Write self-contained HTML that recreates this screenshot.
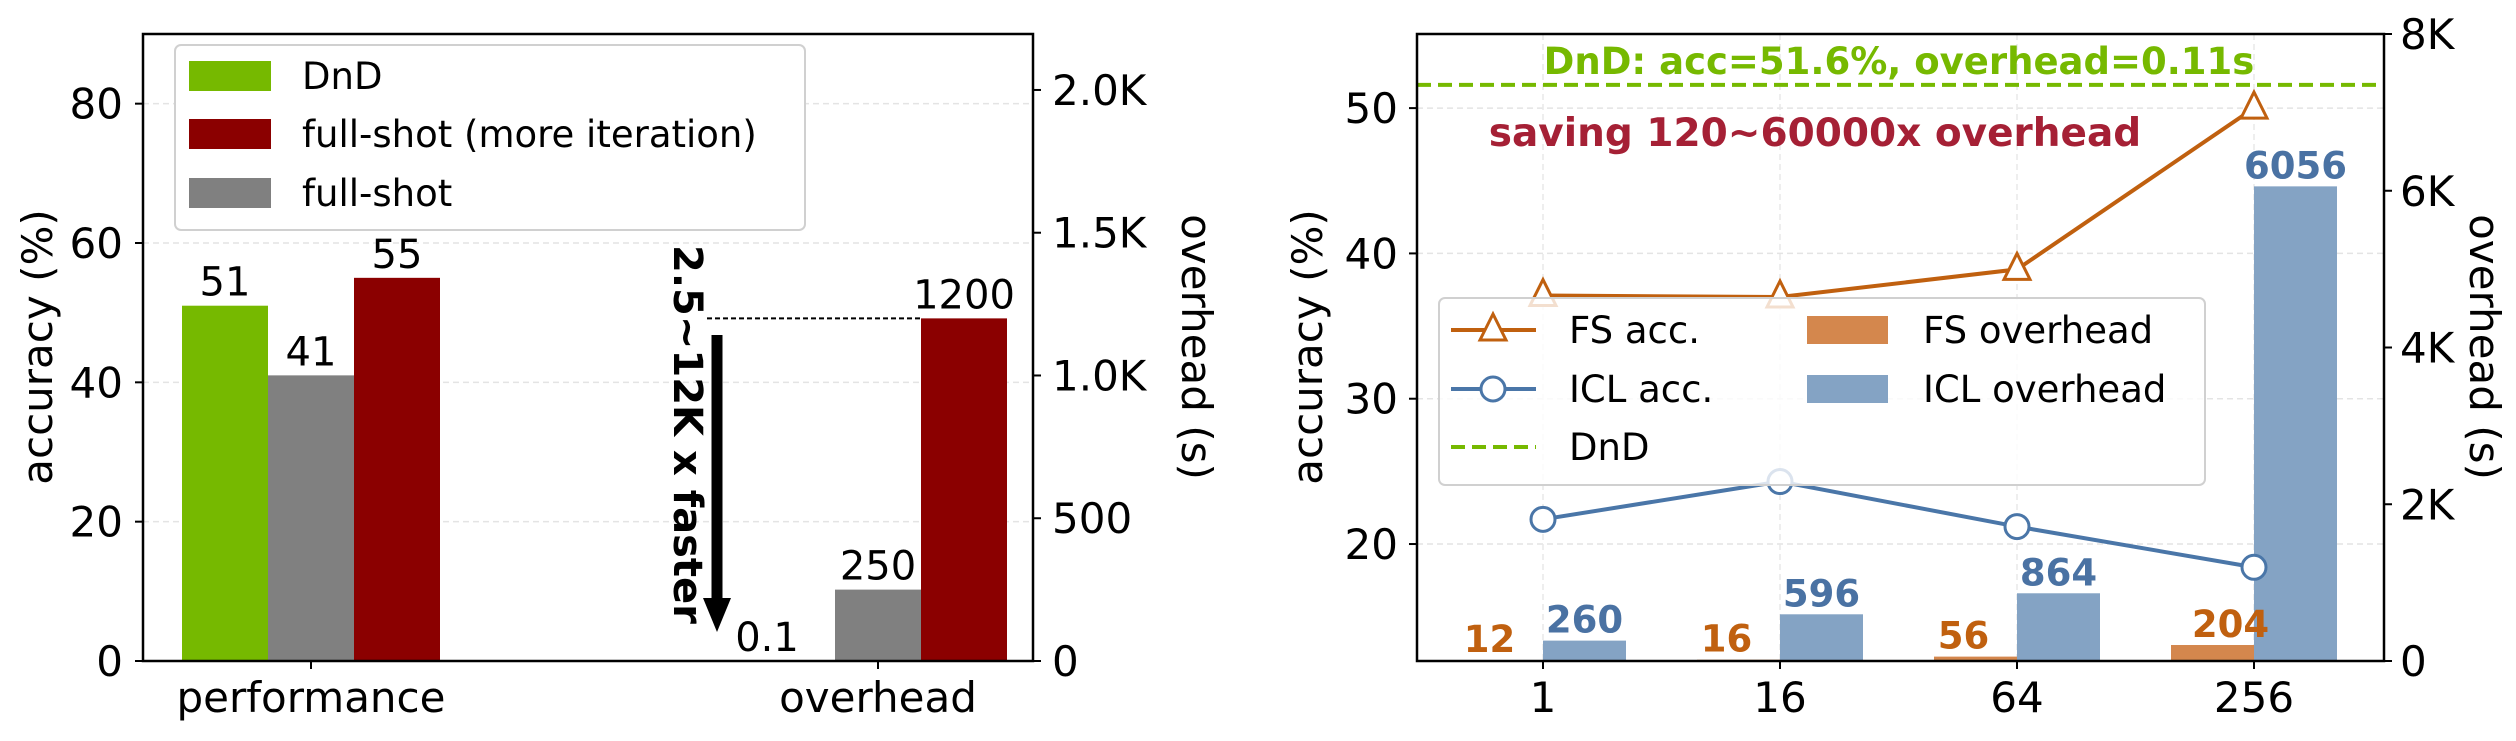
<!DOCTYPE html>
<html><head><meta charset="utf-8">
<style>
html,body{margin:0;padding:0;background:#fff;}
svg{display:block;font-family:"DejaVu Sans","Liberation Sans",sans-serif;}
</style></head>
<body>
<svg id="chart" width="2516" height="741" viewBox="0 0 2516 741" xmlns="http://www.w3.org/2000/svg"></svg>
<script>
// ---- Left chart data ----
const leftCategories = ["performance", "overhead"];
const dndValues = [51, 0.1];
const fullShotMoreValues = [55, 1200];
const fullShotValues = [41, 250];
const leftAccTicks = [0, 20, 40, 60, 80];
const leftOvhTicks = [0, 500, 1000, 1500, 2000];
const leftOvhTickLabels = ["0", "500", "1.0K", "1.5K", "2.0K"];
const dndLabels = ["51", "0.1"];
const fullShotLabels = ["41", "250"];
const fullShotMoreLabels = ["55", "1200"];

// ---- Right chart data ----
const shotCategories = ["1", "16", "64", "256"];
const fsAcc = [37.1, 37.0, 38.9, 50.0];
const iclAcc = [21.7, 24.3, 21.2, 18.4];
const fsOverhead = [12, 16, 56, 204];
const iclOverhead = [260, 596, 864, 6056];
const dndAcc = 51.6;
const rightAccTicks = [20, 30, 40, 50];
const rightOvhTicks = [0, 2000, 4000, 6000, 8000];
const rightOvhTickLabels = ["0", "2K", "4K", "6K", "8K"];

const NS = "http://www.w3.org/2000/svg";
const svg = document.getElementById("chart");
function mk(tag, attrs, parent, text) {
  const e = document.createElementNS(NS, tag);
  for (const k in attrs) e.setAttribute(k, attrs[k]);
  if (text !== undefined) e.textContent = text;
  (parent || svg).appendChild(e);
  return e;
}

// ===== LEFT CHART =====
const L = {x0:143, x1:1033, y0:34, y1:661};
const lAcc = v => L.y1 - (v/90)*(L.y1-L.y0);
const lOvh = v => L.y1 - (v/2196)*(L.y1-L.y0);
const lX = i => 311 + i*567;
const bw = 86;

const gL = mk("g", {});



leftAccTicks.forEach(t => {
  const y = lAcc(t);
  if (t>0) {
    const gl = mk("line", {x1:L.x0, x2:L.x1, y1:y, y2:y, stroke:"#e4e4e4", "stroke-width":1.5, "stroke-dasharray":"6,4"}, gL);
    
    
  }
  mk("line", {x1:L.x0-8, x2:L.x0, y1:y, y2:y, stroke:"#000", "stroke-width":2}, gL);
  const tx = mk("text", {x:123, y:y+15, "text-anchor":"end", "font-size":42}, gL, String(t));
  
  
});
leftOvhTicks.forEach((t,i) => {
  const y = lOvh(t);
  mk("line", {x1:L.x1, x2:L.x1+8, y1:y, y2:y, stroke:"#000", "stroke-width":2}, gL);
  const tx = mk("text", {x:1052, y:y+15, "font-size":42}, gL, leftOvhTickLabels[i]);
  
  
});

function lbar(x, yTop, color, name) {
  const r = mk("rect", {x:x, y:yTop, width:bw, height:L.y1-yTop, fill:color}, gL);
  
  
}
function llabel(x, y, s) {
  const t = mk("text", {x:x, y:y, "text-anchor":"middle", "font-size":40}, gL, s);
  
  
}
leftCategories.forEach((c,i) => {
  const cx = lX(i);
  const scale = i===0 ? lAcc : lOvh;
  lbar(cx-1.5*bw, scale(dndValues[i]), "#76b900", "bar-dnd-"+c);
  lbar(cx-0.5*bw, scale(fullShotValues[i]), "#808080", "bar-full-shot-"+c);
  lbar(cx+0.5*bw, scale(fullShotMoreValues[i]), "#8b0000", "bar-full-shot-more-"+c);
  if (i===0) {
    llabel(cx-bw, scale(dndValues[i])-10, dndLabels[i]);
  } else {
    llabel(cx-bw-25, scale(dndValues[i])-10, dndLabels[i]);
  }
  llabel(cx, scale(fullShotValues[i])-10, fullShotLabels[i]);
  llabel(cx+bw, scale(fullShotMoreValues[i])-10, fullShotMoreLabels[i]);
  mk("line", {x1:cx, x2:cx, y1:L.y1, y2:L.y1+8, stroke:"#000", "stroke-width":2}, gL);
  const xl = mk("text", {x:cx, y:712, "text-anchor":"middle", "font-size":42}, gL, c);
  
  
});

// dashed reference & arrow
const yRef = lOvh(fullShotMoreValues[1]);
mk("line", {x1:707, x2:lX(1)+0.5*bw, y1:yRef, y2:yRef, stroke:"#000", "stroke-width":2, "stroke-dasharray":"5,3"}, gL);
const ar = mk("g", {}, gL);


mk("line", {x1:717, x2:717, y1:335, y2:600, stroke:"#000", "stroke-width":11}, ar);
mk("polygon", {points:"703,598 731,598 717,632", fill:"#000"}, ar);
const at = mk("text", {x:0, y:0, transform:"translate(674,245) rotate(90)", "font-size":40, "font-weight":"bold"}, gL, "2.5~12K x faster");



// axes frame
mk("rect", {x:L.x0, y:L.y0, width:L.x1-L.x0, height:L.y1-L.y0, fill:"none", stroke:"#000", "stroke-width":2.5}, gL);
const yl = mk("text", {x:0, y:0, transform:"translate(52,347) rotate(-90)", "text-anchor":"middle", "font-size":42}, gL, "accuracy (%)");


const yr = mk("text", {x:0, y:0, transform:"translate(1182,347) rotate(90)", "text-anchor":"middle", "font-size":42}, gL, "overhead (s)");



// legend
const lg = mk("g", {}, gL);


mk("rect", {x:175, y:45, width:630, height:185, rx:6, fill:"#fff", stroke:"#d0d0d0", "stroke-width":2}, lg);
[["#76b900","DnD",61],["#8b0000","full-shot (more iteration)",119],["#808080","full-shot",178]].forEach(e => {
  const eg = mk("g", {}, lg);
  
  
  mk("rect", {x:189, y:e[2], width:82, height:30, fill:e[0]}, eg);
  mk("text", {x:302, y:e[2]+28, "font-size":37}, eg, e[1]);
});

// ===== RIGHT CHART =====
const R = {x0:1417, x1:2384, y0:34, y1:661};
const rAcc = v => R.y1 - ((v-11.95)/(55.1-11.95))*(R.y1-R.y0);
const rOvh = v => R.y1 - (v/8000)*(R.y1-R.y0);
const rX = i => 1543 + i*237;
const rbw = 83;
const gR = mk("g", {});



rightAccTicks.forEach(t => {
  const y = rAcc(t);
  mk("line", {x1:R.x0, x2:R.x1, y1:y, y2:y, stroke:"#e4e4e4", "stroke-width":1.5, "stroke-dasharray":"6,4"}, gR);
  mk("line", {x1:R.x0-8, x2:R.x0, y1:y, y2:y, stroke:"#000", "stroke-width":2}, gR);
  const tx = mk("text", {x:1398, y:y+15, "text-anchor":"end", "font-size":42}, gR, String(t));
  
  
});
rightOvhTicks.forEach((t,i) => {
  const y = rOvh(t);
  mk("line", {x1:R.x1, x2:R.x1+8, y1:y, y2:y, stroke:"#000", "stroke-width":2}, gR);
  const tx = mk("text", {x:2400, y:y+15, "font-size":42}, gR, rightOvhTickLabels[i]);
  
  
});
shotCategories.forEach((c,i) => {
  const x = rX(i);
  mk("line", {x1:x, x2:x, y1:R.y0, y2:R.y1, stroke:"#e8e8e8", "stroke-width":1.5, "stroke-dasharray":"6,4"}, gR);
});
shotCategories.forEach((c,i) => {
  const x = rX(i);
  const yf = rOvh(fsOverhead[i]), yi = rOvh(iclOverhead[i]);
  const fb = mk("rect", {x:x-rbw, y:yf, width:rbw, height:R.y1-yf, fill:"#d4874d"}, gR);
  
  
  const ib = mk("rect", {x:x, y:yi, width:rbw, height:R.y1-yi, fill:"#84a3c4"}, gR);
  
  
  const fl = mk("text", {x:x-rbw/2-(i===3?-18:12), y:yf-8, "text-anchor":"middle", "font-size":37, "font-weight":"bold", fill:"#c0600f"}, gR, String(fsOverhead[i]));
  
  
  const il = mk("text", {x:x+rbw/2, y:yi-8, "text-anchor":"middle", "font-size":37, "font-weight":"bold", fill:"#4a72a3"}, gR, String(iclOverhead[i]));
  
  
  mk("line", {x1:x, x2:x, y1:R.y1, y2:R.y1+8, stroke:"#000", "stroke-width":2}, gR);
  const xl = mk("text", {x:x, y:712, "text-anchor":"middle", "font-size":42}, gR, c);
  
  
});

// DnD line
const yd = rAcc(dndAcc);
const dl = mk("line", {x1:R.x0, x2:R.x1, y1:yd, y2:yd, stroke:"#76b900", "stroke-width":4, "stroke-dasharray":"14,7"}, gR);



// lines
function series(vals, color, name, marker) {
  const g = mk("g", {}, gR);
  
  
  mk("polyline", {points: vals.map((v,i)=>rX(i)+","+rAcc(v)).join(" "), fill:"none", stroke:color, "stroke-width":4}, g);
  vals.forEach((v,i) => {
    const x = rX(i), y = rAcc(v);
    let m;
    if (marker === "tri") m = mk("polygon", {points:`${x},${y-16} ${x-13},${y+10} ${x+13},${y+10}`, fill:"#fff", stroke:color, "stroke-width":3}, g);
    else m = mk("circle", {cx:x, cy:y, r:12, fill:"#fff", stroke:color, "stroke-width":3}, g);
    
    
  });
}
series(fsAcc, "#c0600f", "fs-acc-line", "tri");
series(iclAcc, "#4a76a8", "icl-acc-line", "circ");

// annotations
const a1 = mk("text", {x:1899, y:74, "text-anchor":"middle", "font-size":37, "font-weight":"bold", fill:"#76b900"}, gR, "DnD: acc=51.6%, overhead=0.11s");


const a2 = mk("text", {x:1815, y:146, "text-anchor":"middle", "font-size":39, "font-weight":"bold", fill:"#a52035"}, gR, "saving 120~60000x overhead");



// legend
const rg = mk("g", {}, gR);


mk("rect", {x:1439, y:298, width:766, height:187, rx:6, fill:"#fff", "fill-opacity":0.8, stroke:"#d0d0d0", "stroke-width":2}, rg);
function lentry(y, draw, label, tx) {
  const eg = mk("g", {}, rg);
  
  
  draw(eg);
  mk("text", {x:tx, y:y+13, "font-size":37}, eg, label);
}
lentry(330, g => { mk("line",{x1:1451,x2:1536,y1:330,y2:330,stroke:"#c0600f","stroke-width":4},g); mk("polygon",{points:"1493,314 1480,340 1506,340",fill:"#fff",stroke:"#c0600f","stroke-width":3},g); }, "FS acc.", 1569);
lentry(389, g => { mk("line",{x1:1451,x2:1536,y1:389,y2:389,stroke:"#4a76a8","stroke-width":4},g); mk("circle",{cx:1493,cy:389,r:12,fill:"#fff",stroke:"#4a76a8","stroke-width":3},g); }, "ICL acc.", 1569);
lentry(447, g => { mk("line",{x1:1451,x2:1536,y1:447,y2:447,stroke:"#76b900","stroke-width":4,"stroke-dasharray":"14,7"},g); }, "DnD", 1569);
lentry(330, g => { mk("rect",{x:1807,y:316,width:81,height:28,fill:"#d4874d"},g); }, "FS overhead", 1923);
lentry(389, g => { mk("rect",{x:1807,y:375,width:81,height:28,fill:"#84a3c4"},g); }, "ICL overhead", 1923);

mk("rect", {x:R.x0, y:R.y0, width:R.x1-R.x0, height:R.y1-R.y0, fill:"none", stroke:"#000", "stroke-width":2.5}, gR);
const ryl = mk("text", {x:0, y:0, transform:"translate(1322,347) rotate(-90)", "text-anchor":"middle", "font-size":42}, gR, "accuracy (%)");


const ryr = mk("text", {x:0, y:0, transform:"translate(2470,347) rotate(90)", "text-anchor":"middle", "font-size":42}, gR, "overhead (s)");


</script>
</body></html>
